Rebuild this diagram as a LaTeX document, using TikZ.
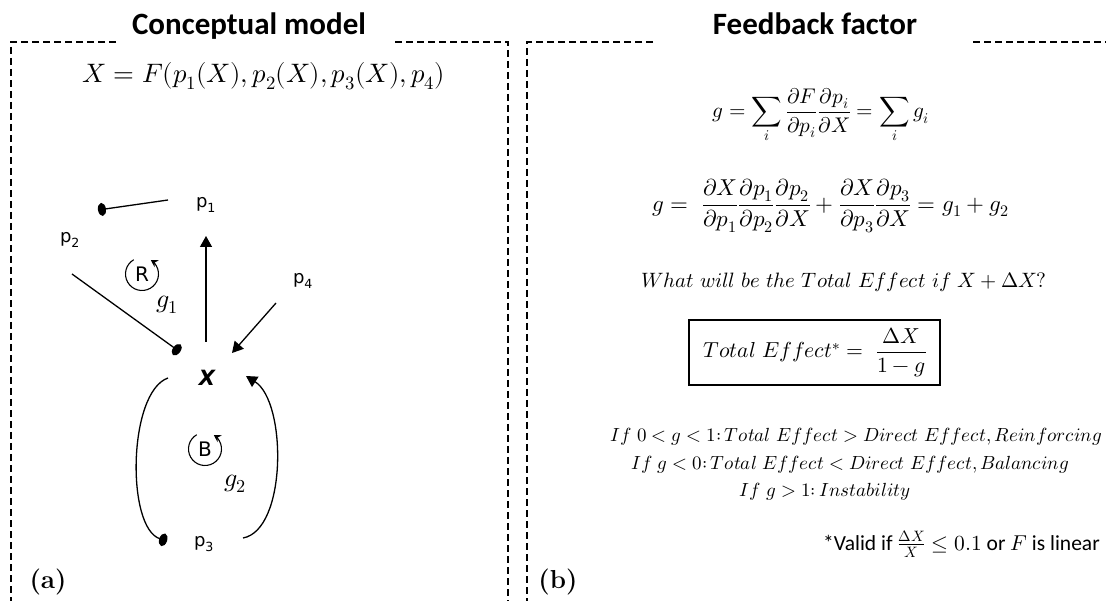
\documentclass[tikz,border=0pt]{standalone}
\usepackage{amsmath}
\usepackage{fontspec}
\usepackage{unicode-math}
\setmathfont{Latin Modern Math}
\usetikzlibrary{arrows.meta}
\newfontfamily\titlefont{Carlito}
\newfontfamily\labfont{DejaVu Sans}
\newcommand{\fsz}[1]{\fontsize{#1}{#1}\selectfont}
\begin{document}
\begin{tikzpicture}[x=1pt,y=-1pt,
  frame/.style={line width=1.3pt, dash pattern=on 7pt off 4pt},
  conn/.style={line width=1.3pt},
  dotend/.style={conn,-{Ellipse[length=8pt,width=13pt]}},
  tri/.style={conn,-{Triangle[length=11pt,width=12pt]}},
  loopar/.style={line width=1.1pt,-{Stealth[length=7pt,width=8pt]}},
  lab/.style={font=\labfont\fsz{18}, inner sep=0pt},
  looplab/.style={font=\labfont\fsz{20}, inner sep=0pt},
  mlab/.style={font=\fsz{26}, inner sep=0pt},
  cond/.style={font=\fsz{19}, inner sep=0pt, anchor=base},
  title/.style={font=\titlefont\bfseries\fsz{31}, inner sep=0pt, anchor=base},
  tag/.style={font=\bfseries\fsz{26}, inner sep=0pt, anchor=base}
]
\useasboundingbox (0,0) rectangle (1106,601);

% frames
\draw[frame] (116,42) -- (11,42) -- (11,601);
\draw[frame] (395,42) -- (508,42) -- (508,601);
\draw[frame] (653,42) -- (527,42) -- (527,601);
\draw[frame] (973,42) -- (1106,42);

% titles
\node[title] (t1) at (249,35) {Conceptual model};
\node[title] (t2) at (815,35) {Feedback factor};

% main equation
\node[font=\fsz{26.7}, inner sep=0pt, anchor=base] (eqX) at (264,83) {$X=F(p_1(X),p_2(X),p_3(X),p_4)$};

% left diagram labels
\node[lab] (p1) at (206,205) {p\textsubscript{1}};
\node[lab] (p2) at (70,240) {p\textsubscript{2}};
\node[lab] (p4) at (303,281) {p\textsubscript{4}};
\node[lab] (p3) at (204,544) {p\textsubscript{3}};
\node[font=\labfont\bfseries\itshape\fsz{21}, inner sep=0pt] (X) at (207,378) {X};
\node[mlab] (g1) at (167,305) {$g_1$};
\node[mlab] (g2) at (235,484) {$g_2$};
\node[looplab] (R) at (142,274) {R};
\node[looplab] (B) at (205,449) {B};

% loop symbols (y axis points down, so angles are mirrored)
\draw[loopar] (R.center) ++(-120:16.5) arc[start angle=-120, end angle=-418, radius=16.5];
\draw[loopar] (B.center) ++(-120:16.5) arc[start angle=-120, end angle=-418, radius=16.5];

% connector ends
\coordinate (a1s) at (168,200);
\coordinate (a1e) at (98,210);
\coordinate (a2s) at (72,274);
\coordinate (a2e) at (180,352);
\coordinate (a3s) at (206,342);
\coordinate (a3e) at (206,236);
\coordinate (a4s) at (276,303);
\coordinate (a4e) at (232,353);
\coordinate (a5s) at (168,378);
\coordinate (a5e) at (167,541);
\coordinate (a6s) at (243,538);
\coordinate (a6e) at (246,376);

\draw[dotend] (a1s) -- (a1e);
\draw[dotend] (a2s) -- (a2e);
\draw[tri] (a3s) -- (a3e);
\draw[tri] (a4s) -- (a4e);
\draw[dotend] (a5s) .. controls (128,392) and (126,528) .. (a5e);
\draw[tri] (a6s) .. controls (287,530) and (287,402) .. (a6e);

% right panel
\node[font=\fsz{21.2}, inner sep=0pt] (e1) at (821,116) {$\displaystyle g=\sum_i \frac{\partial F}{\partial p_i}\frac{\partial p_i}{\partial X}=\sum_i g_i$};
\node[font=\fsz{23}, inner sep=0pt] (e2) at (831,206) {$\displaystyle g=\ \frac{\partial X}{\partial p_1}\frac{\partial p_1}{\partial p_2}\frac{\partial p_2}{\partial X}+\frac{\partial X}{\partial p_3}\frac{\partial p_3}{\partial X}=g_1+g_2$};
\node[font=\fsz{20.8}, inner sep=0pt, anchor=base] (q) at (844,288) {$What\ will\ be\ the\ Total\ Effect\ if\ X+\Delta X?$};
\node[draw, line width=1.3pt, minimum width=251pt, minimum height=65pt, inner sep=0pt] (tebox) at (814.5,352.5) {};
\node[font=\fsz{21.7}, inner sep=0pt] (te) at (815,352.5) {$Total\ Effect^{*}=\ \dfrac{\Delta X}{1-g}$};
\node[cond] (c1) at (856,442) {$If\ 0<g<1{:}\,Total\ Effect>Direct\ Effect,Reinforcing$};
\node[cond] (c2) at (850,469) {$If\ g<0{:}\,Total\ Effect<Direct\ Effect,Balancing$};
\node[cond] (c3) at (825,496) {$If\ g>1{:}\,Instability$};
\node[font=\titlefont\fsz{21.5}, inner sep=0pt, anchor=base east] (fn) at (1100,550) {*Valid if $\frac{\Delta X}{X}\le 0.1$ or $F$ is linear};

% tags
\node[tag] (ta) at (48,588) {(a)};
\node[tag] (tb) at (558,588) {(b)};
\end{tikzpicture}
\end{document}
